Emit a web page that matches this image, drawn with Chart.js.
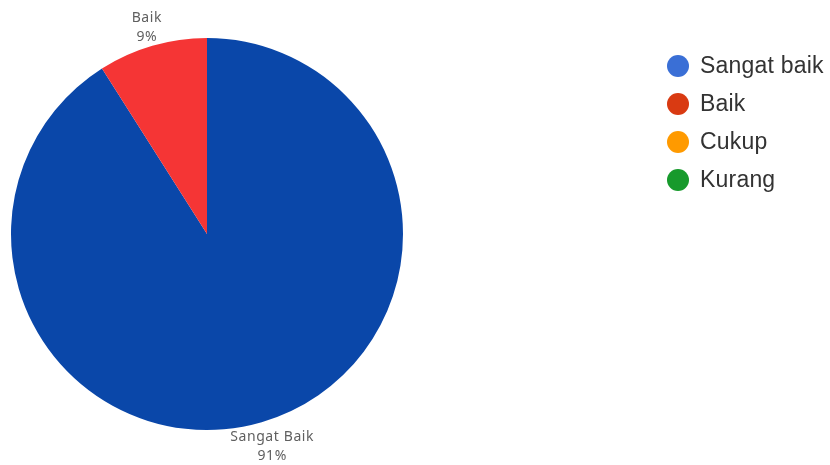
<!DOCTYPE html>
<html lang="id">
<head>
  <meta charset="UTF-8" />
  <title>Penilaian</title>
  <script src="https://cdn.jsdelivr.net/npm/chart.js"></script>
  <style>
    html, body { margin: 0; padding: 0; background: #fff; }
    #wrap { width: 830px; height: 465px; position: relative; }
  </style>
</head>
<body>
  <div id="wrap"><canvas id="pieChart" width="830" height="465"></canvas></div>

  <script>
    const categories = ['Sangat baik', 'Baik', 'Cukup', 'Kurang'];
    const percents = [91, 9, 0, 0];
    const sliceLabels = ['Sangat Baik', 'Baik', 'Cukup', 'Kurang'];
    const sliceColors = ['#0a47a9', '#f53535', '#ff9900', '#1a9a2a'];
    const legendColors = ['#3a6fd6', '#d93a12', '#ff9a00', '#179a2c'];

    // outside labels + legend drawn after the pie
    const extras = {
      id: 'extras',
      afterDraw(chart) {
        const ctx = chart.ctx;
        const meta = chart.getDatasetMeta(0);
        ctx.save();
        ctx.textAlign = 'center';
        ctx.textBaseline = 'middle';
        ctx.fillStyle = '#5f5f5f';
        ctx.font = '14px "Noto Sans", sans-serif';
        ctx.letterSpacing = '0.6px';
        meta.data.forEach((arc, i) => {
          if (!percents[i]) return;
          const mid = (arc.startAngle + arc.endAngle) / 2;
          const r = arc.outerRadius + 16;
          let x = arc.x + Math.cos(mid) * r;
          let y = arc.y + Math.sin(mid) * r;
          if (Math.sin(mid) > 0) { y -= 1; x += 6; } else { y -= 12; x -= 1; }
          ctx.fillText(sliceLabels[i], x, y);
          ctx.fillText(percents[i] + '%', x, y + 19);
        });

        ctx.textAlign = 'left';
        ctx.font = '23px "Liberation Sans", Arial, sans-serif';
        ctx.letterSpacing = '0.2px';
        categories.forEach((c, i) => {
          const y = 66 + i * 38;
          ctx.beginPath();
          ctx.arc(678, y, 11, 0, Math.PI * 2);
          ctx.fillStyle = legendColors[i];
          ctx.fill();
          ctx.fillStyle = '#333';
          ctx.fillText(c, 700, y + 1);
        });
        ctx.restore();
      }
    };

    new Chart(document.getElementById('pieChart'), {
      type: 'pie',
      data: {
        labels: categories,
        datasets: [{
          data: percents,
          backgroundColor: sliceColors,
          borderWidth: 0
        }]
      },
      options: {
        responsive: false,
        animation: false,
        layout: { padding: { left: 11, top: 38, right: 427, bottom: 35 } },
        plugins: {
          legend: { display: false },
          tooltip: { enabled: false }
        }
      },
      plugins: [extras]
    });
  </script>
</body>
</html>
